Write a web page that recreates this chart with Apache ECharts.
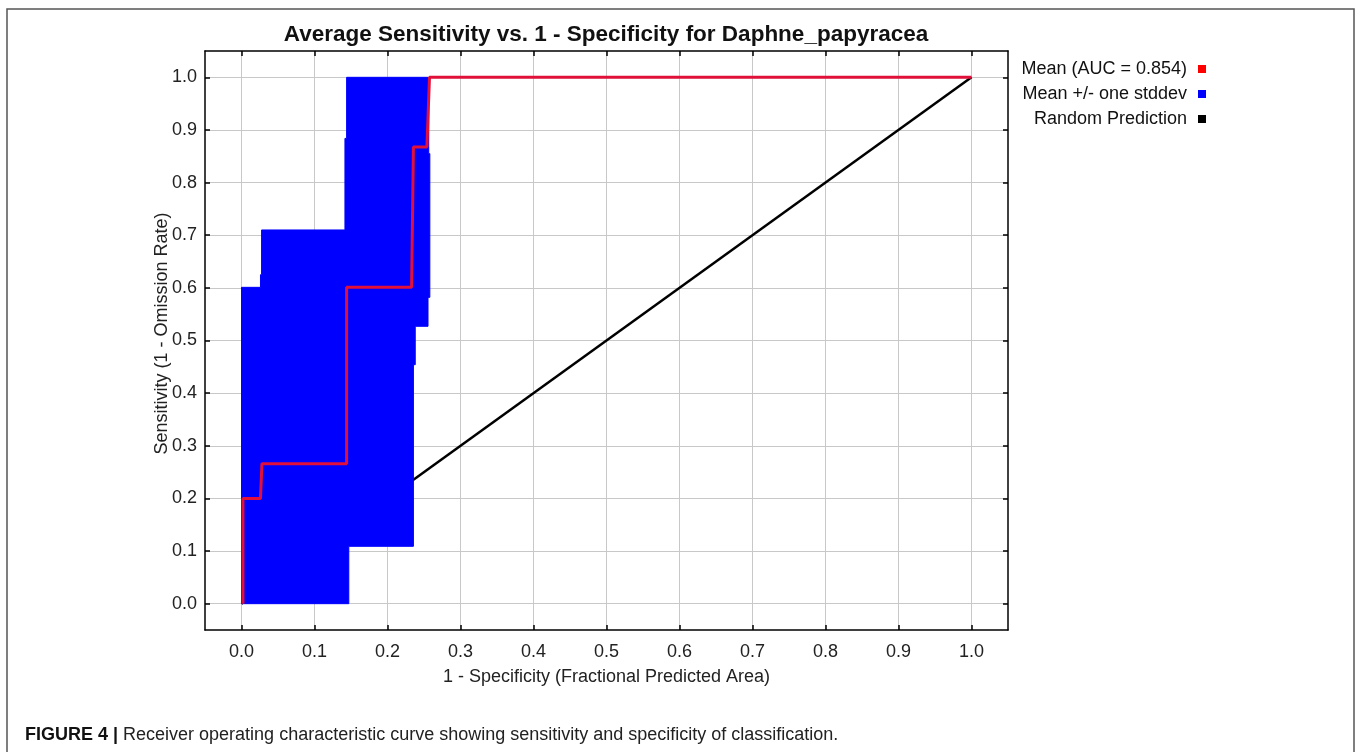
<!DOCTYPE html>
<html>
<head>
<meta charset="utf-8">
<script src="https://cdn.jsdelivr.net/npm/echarts@6/dist/echarts.min.js"></script>
<style>html,body{margin:0;padding:0;background:#fff;}#chart{width:1357px;height:752px;}</style>
</head>
<body>
<div id="chart"></div>
<script>
// ---- data ----
const titleText = 'Average Sensitivity vs. 1 - Specificity for Daphne_papyracea';
const xAxisName = '1 - Specificity (Fractional Predicted Area)';
const yAxisName = 'Sensitivity (1 - Omission Rate)';
const captionBold = 'FIGURE 4 | ';
const captionText = 'Receiver operating characteristic curve showing sensitivity and specificity of classification.';
const tickValues = [0, 0.1, 0.2, 0.3, 0.4, 0.5, 0.6, 0.7, 0.8, 0.9, 1.0];
const seriesNames = ['Mean (AUC = 0.854)', 'Mean +/- one stddev', 'Random Prediction'];

// mean curve
const meanX = [0.002, 0.002, 0.026, 0.028, 0.144, 0.144, 0.233, 0.2355, 0.254, 0.2575, 1.0];
const meanY = [0.0, 0.2, 0.2, 0.266, 0.266, 0.601, 0.601, 0.8675, 0.8675, 1.0, 1.0];
// upper stddev boundary (left/top edge of band)
const upperX = [0.0, 0.0, 0.026, 0.026, 0.0275, 0.0275, 0.1417, 0.1417, 0.144, 0.144, 0.2565];
const upperY = [0.0, 0.601, 0.601, 0.625, 0.625, 0.71, 0.71, 0.884, 0.884, 1.0, 1.0];
// lower stddev boundary (right/bottom edge of band)
const lowerX = [0.0, 0.147, 0.147, 0.2355, 0.2355, 0.238, 0.238, 0.2555, 0.2555, 0.258, 0.258, 0.2565, 0.2565];
const lowerY = [0.0, 0.0, 0.109, 0.109, 0.454, 0.454, 0.527, 0.527, 0.582, 0.582, 0.855, 0.855, 1.0];
// random prediction
const randX = [0, 1];
const randY = [0, 1];

const FONT = "'Liberation Sans', Arial, sans-serif";
const zip = (xs, ys) => xs.map((x, i) => [x, ys[i]]);
const bandPoly = zip(upperX, upperY).concat(zip(lowerX, lowerY).reverse());

const chart = echarts.init(document.getElementById('chart'), null, {renderer: 'canvas'});

const axisCommon = {
  type: 'value', min: -0.05, max: 1.05,
  axisLine: {show: true, onZero: false, lineStyle: {color: '#000', width: 1.5}},
  axisTick: {show: true, inside: true, length: 5, customValues: tickValues, lineStyle: {color: '#000', width: 1.5}},
};

const option = {
  backgroundColor: '#fff',
  animation: false,
  grid: {left: 205, top: 51, width: 803, height: 579, containLabel: false},
  legend: seriesNames.map((n, i) => ({
    data: [n], orient: 'vertical', right: 146, top: 55 + i * 25,
    align: 'right', icon: 'rect', itemWidth: 8, itemHeight: 8,
    textStyle: {fontFamily: FONT, fontSize: 18, color: '#111', padding: [0, 6, 0, 0]},
    selectedMode: false
  })),
  xAxis: [
    Object.assign({}, axisCommon, {
      position: 'bottom',
      name: xAxisName, nameLocation: 'middle', nameGap: 38, nameMoveOverlap: false,
      nameTextStyle: {fontFamily: FONT, fontSize: 18, color: '#222'},
      axisLabel: {show: true, customValues: tickValues, margin: 13, fontFamily: FONT, fontSize: 18, color: '#222',
        formatter: v => v.toFixed(1)},
      splitLine: {show: true, lineStyle: {color: '#c8c8c8', width: 1}}
    }),
    Object.assign({}, axisCommon, {position: 'top', axisLabel: {show: false}, splitLine: {show: false}})
  ],
  yAxis: [
    Object.assign({}, axisCommon, {
      position: 'left',
      name: yAxisName, nameLocation: 'middle', nameGap: 34, nameMoveOverlap: false,
      nameTextStyle: {fontFamily: FONT, fontSize: 18, color: '#222', padding: [0, 0, 0, 14]},
      axisLabel: {show: true, customValues: tickValues, margin: 8, fontFamily: FONT, fontSize: 18, color: '#222',
        formatter: v => v.toFixed(1)},
      splitLine: {show: true, lineStyle: {color: '#c8c8c8', width: 1}}
    }),
    Object.assign({}, axisCommon, {position: 'right', axisLabel: {show: false}, splitLine: {show: false}})
  ],
  series: [
    {
      name: seriesNames[2], type: 'line', data: zip(randX, randY), showSymbol: false, symbol: 'none',
      color: '#000', lineStyle: {color: '#000', width: 2.5}, z: 2, silent: true
    },
    {
      name: seriesNames[1], type: 'custom', data: [0], z: 3, silent: true,
      itemStyle: {color: '#0000ff'}, color: '#0000ff',
      renderItem: (params, api) => ({
        type: 'polygon',
        shape: {points: bandPoly.map(p => api.coord(p))},
        style: {fill: '#0000ff', stroke: '#0000ff', lineWidth: 1}
      })
    },
    {
      name: seriesNames[0], type: 'line', data: zip(meanX, meanY), showSymbol: false, symbol: 'none',
      color: '#ff0000', lineStyle: {color: '#e0103a', width: 3}, z: 4, silent: true
    }
  ],
  graphic: [
    {type: 'rect', shape: {x: 7, y: 9, width: 1347, height: 760}, style: {fill: 'none', stroke: '#555', lineWidth: 1.5}, silent: true},
    {type: 'text', x: 606, y: 35, silent: true,
      style: {text: titleText, fontFamily: FONT, fontWeight: 'bold', fontSize: 22.5, fill: '#111', align: 'center', verticalAlign: 'middle'}},
    {type: 'text', x: 25, y: 735, silent: true,
      style: {text: '{b|' + captionBold + '}{n|' + captionText + '}', align: 'left', verticalAlign: 'middle',
        rich: {
          b: {fontFamily: FONT, fontWeight: 'bold', fontSize: 18, fill: '#111'},
          n: {fontFamily: FONT, fontSize: 18, fill: '#222'}
        }}}
  ]
};
chart.setOption(option);
</script>
</body>
</html>
